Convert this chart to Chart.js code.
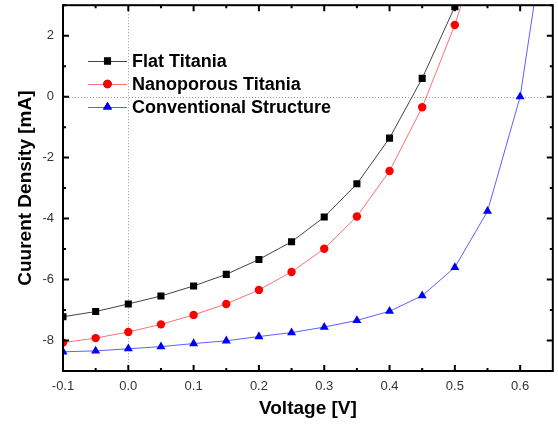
<!DOCTYPE html>
<html lang="en">
<head>
    <meta charset="UTF-8">
    <title>J-V Curves</title>
    <script src="https://cdn.jsdelivr.net/npm/chart.js"></script>
    <style>
        body {
            margin: 0;
            background-color: #fff;
        }
        #chart-container {
            width: 558px;
            height: 424px;
        }
    </style>
</head>
<body>
    <div id="chart-container">
        <canvas id="jvChart" width="558" height="424"></canvas>
    </div>

    <script>
        // Voltage steps (V), shared by all series
        const voltage = [-0.1, -0.05, 0.0, 0.05, 0.1, 0.15, 0.2, 0.25, 0.3, 0.35, 0.4, 0.45, 0.5, 0.55, 0.6, 0.65];

        // Current density (mA), null where no point
        const flatTitania = [-7.22, -7.05, -6.80, -6.54, -6.21, -5.83, -5.34, -4.76, -3.95, -2.86, -1.36, 0.60, 2.95, null, null, null];
        const nanoporousTitania = [-8.07, -7.92, -7.72, -7.47, -7.16, -6.80, -6.34, -5.75, -4.99, -3.93, -2.44, -0.35, 2.35, 5.75, null, null];
        const conventional = [-8.37, -8.34, -8.27, -8.20, -8.10, -8.01, -7.87, -7.74, -7.56, -7.34, -7.04, -6.53, -5.60, -3.76, 0.0, 7.1];

        const seriesNames = ['Flat Titania', 'Nanoporous Titania', 'Conventional Structure'];

        // Axis ticks
        const xTicks = [-0.1, 0.0, 0.1, 0.2, 0.3, 0.4, 0.5, 0.6];
        const xMinorTicks = [-0.05, 0.05, 0.15, 0.25, 0.35, 0.45, 0.55];
        const yTicks = [-8, -6, -4, -2, 0, 2];
        const yMinorTicks = [-9, -7, -5, -3, -1, 1, 3];

        function toPoints(values) {
            const pts = [];
            values.forEach((v, i) => {
                if (v !== null) pts.push({ x: voltage[i], y: v });
            });
            return pts;
        }

        // Frame, inward ticks and zero lines, drawn through the scales
        const framePlugin = {
            id: 'frame',
            beforeDatasetsDraw(chart) {
                const { ctx, chartArea: a, scales: { x, y } } = chart;
                ctx.save();
                ctx.strokeStyle = '#999';
                ctx.lineWidth = 1;
                ctx.setLineDash([1, 2]);
                const x0 = Math.round(x.getPixelForValue(0)) + 0.5;
                const y0 = Math.round(y.getPixelForValue(0)) + 0.5;
                ctx.beginPath();
                ctx.moveTo(x0, a.top); ctx.lineTo(x0, a.bottom);
                ctx.moveTo(a.left, y0); ctx.lineTo(a.right, y0);
                ctx.stroke();
                ctx.restore();
            },
            afterDraw(chart) {
                const { ctx, chartArea: a, scales: { x, y } } = chart;
                ctx.save();
                ctx.strokeStyle = '#000';
                ctx.lineWidth = 2;
                ctx.strokeRect(a.left, a.top, a.right - a.left, a.bottom - a.top);
                ctx.beginPath();
                const tick = (vals, len) => {
                    vals.forEach(v => {
                        const px = x.getPixelForValue(v);
                        if (px >= a.left && px <= a.right) {
                            ctx.moveTo(px, a.bottom); ctx.lineTo(px, a.bottom - len);
                            ctx.moveTo(px, a.top); ctx.lineTo(px, a.top + len);
                        }
                    });
                };
                const ytick = (vals, len) => {
                    vals.forEach(v => {
                        const py = y.getPixelForValue(v);
                        if (py >= a.top && py <= a.bottom) {
                            ctx.moveTo(a.left, py); ctx.lineTo(a.left + len, py);
                            ctx.moveTo(a.right, py); ctx.lineTo(a.right - len, py);
                        }
                    });
                };
                tick(xTicks, 6);
                tick(xMinorTicks, 3);
                ytick(yTicks, 6);
                ytick(yMinorTicks, 3);
                ctx.stroke();
                ctx.restore();
            }
        };

        // Legend inside the plot, line with marker
        const legendPlugin = {
            id: 'insideLegend',
            afterDraw(chart) {
                const { ctx } = chart;
                ctx.save();
                chart.data.datasets.forEach((ds, i) => {
                    const yy = 61 + i * 23;
                    ctx.strokeStyle = ds.borderColor;
                    ctx.lineWidth = 1;
                    ctx.beginPath();
                    ctx.moveTo(88, yy + 0.5);
                    ctx.lineTo(127, yy + 0.5);
                    ctx.stroke();
                    Chart.helpers.drawPoint(ctx, {
                        pointStyle: ds.pointStyle,
                        radius: ds.pointRadius,
                        borderWidth: 0
                    }, 107.5, yy);
                    ctx.fillStyle = ds.pointBackgroundColor;
                    ctx.fill();
                    ctx.fillStyle = '#000';
                    ctx.font = 'bold 18px Arial, "Liberation Sans", sans-serif';
                    ctx.textBaseline = 'middle';
                    ctx.fillText(ds.label, 132, yy + 1);
                });
                ctx.restore();
            }
        };

        const ctx = document.getElementById('jvChart').getContext('2d');
        new Chart(ctx, {
            type: 'scatter',
            data: {
                datasets: [
                    {
                        label: seriesNames[0],
                        data: toPoints(flatTitania),
                        showLine: true,
                        borderColor: '#444',
                        borderWidth: 1,
                        pointStyle: 'rect',
                        pointRadius: 5,
                        pointBorderWidth: 0,
                        pointBackgroundColor: '#000'
                    },
                    {
                        label: seriesNames[1],
                        data: toPoints(nanoporousTitania),
                        showLine: true,
                        borderColor: '#ff7070',
                        borderWidth: 1,
                        pointStyle: 'circle',
                        pointRadius: 4.2,
                        pointBorderWidth: 0,
                        pointBackgroundColor: '#ff0000'
                    },
                    {
                        label: seriesNames[2],
                        data: toPoints(conventional),
                        showLine: true,
                        borderColor: '#5f5fff',
                        borderWidth: 1,
                        pointStyle: 'triangle',
                        pointRadius: 5.2,
                        pointBorderWidth: 0,
                        pointBackgroundColor: '#0000ff'
                    }
                ]
            },
            options: {
                responsive: false,
                animation: false,
                layout: { padding: { top: 4, right: 2, left: 0, bottom: 0 } },
                plugins: {
                    legend: { display: false },
                    tooltip: { enabled: false }
                },
                scales: {
                    x: {
                        type: 'linear',
                        min: -0.1,
                        max: 0.65,
                        grid: { display: false, drawTicks: false },
                        border: { display: false },
                        afterBuildTicks: s => { s.ticks = xTicks.map(v => ({ value: v })); },
                        afterFit: s => { s.height = 53; s.paddingLeft = 0; s.paddingRight = 0; },
                        ticks: {
                            padding: 8,
                            color: '#333',
                            font: { family: 'Arial, "Liberation Sans", sans-serif', size: 13 },
                            callback: v => v.toFixed(1)
                        },
                        title: {
                            display: true,
                            text: 'Voltage [V]',
                            color: '#000',
                            padding: { top: 0, bottom: 4 },
                            font: { family: 'Arial, "Liberation Sans", sans-serif', size: 19, weight: 'bold' }
                        }
                    },
                    y: {
                        min: -9,
                        max: 3,
                        grid: { display: false, drawTicks: false },
                        border: { display: false },
                        afterBuildTicks: s => { s.ticks = yTicks.map(v => ({ value: v })); },
                        afterFit: s => { s.width = 63; s.paddingTop = 0; s.paddingBottom = 0; },
                        ticks: {
                            padding: 9,
                            color: '#333',
                            font: { family: 'Arial, "Liberation Sans", sans-serif', size: 13 }
                        },
                        title: {
                            display: true,
                            text: 'Cuurent Density [mA]',
                            color: '#000',
                            padding: { top: 14, bottom: 0 },
                            font: { family: 'Arial, "Liberation Sans", sans-serif', size: 19, weight: 'bold' }
                        }
                    }
                }
            },
            plugins: [framePlugin, legendPlugin]
        });
    </script>
</body>
</html>
